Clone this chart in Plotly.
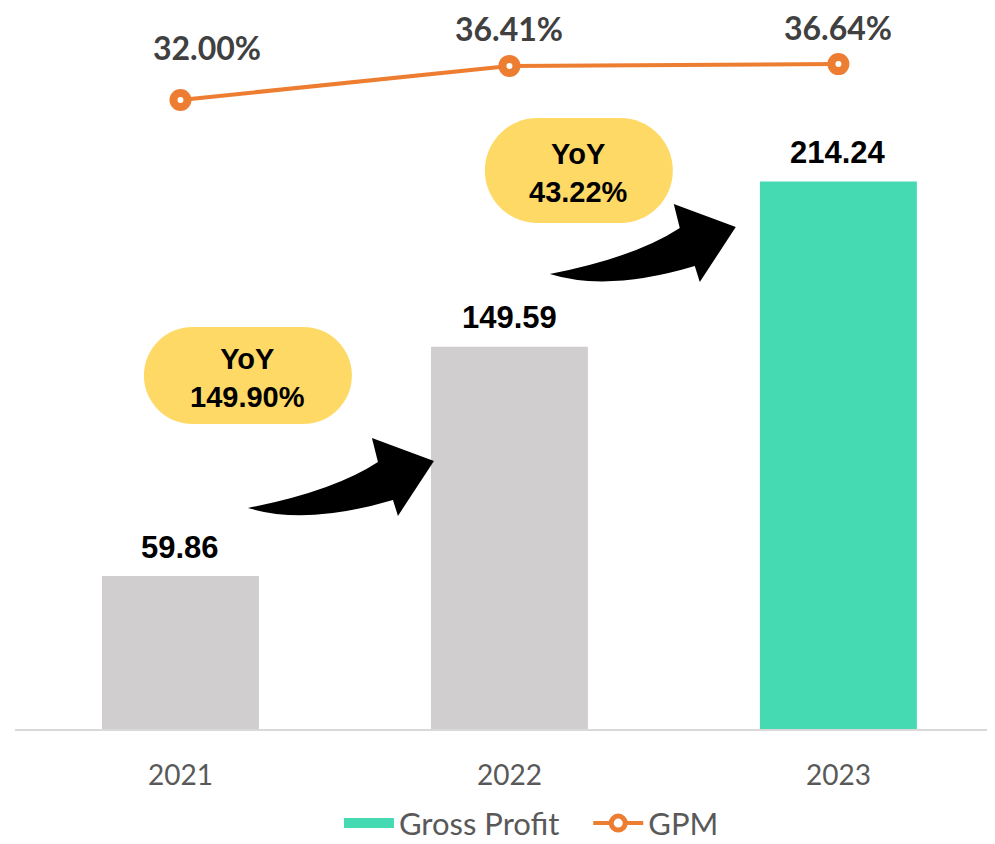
import plotly.graph_objects as go

# data
years = ["2021", "2022", "2023"]
gross_profit = [59.86, 149.59, 214.24]
gpm = [32.00, 36.41, 36.64]
yoy_labels = ["149.90%", "43.22%"]

# colours
BAR_COLORS = ["#D0CECE", "#D0CECE", "#46DAB3"]
GREEN = "#46DAB3"
ORANGE = "#ED7D31"
YELLOW = "#FFD966"

# decoration positions (category index, primary-axis value)
box_centers = [(0.205, 138.3), (1.211, 218.5)]
box_sizes = [(208, 97), (188, 105)]
arrow_tips = [(0.7705, 104.9), (1.688, 196.4)]
gpm_label_offsets = [(27, 52), (0, 37), (0, 37)]


def stadium_path(w, h):
    """Pill shape centred at 0,0 in pixels."""
    a, b = w / 2, h / 2
    r = b
    k = 0.5523 * r
    return (f"M{-a + r},{-b} L{a - r},{-b} "
            f"C{a - r + k},{-b} {a},{-k} {a},0 "
            f"C{a},{k} {a - r + k},{b} {a - r},{b} "
            f"L{-a + r},{b} "
            f"C{-a + r - k},{b} {-a},{k} {-a},0 "
            f"C{-a},{-k} {-a + r - k},{-b} {-a + r},{-b} Z")


# curved arrow, pixels relative to the tip (y up)
ARROW_PATH = ("M-186,-47 Q-100,-30 -56,-1 L-62,23 L0,0 L-36,-55 "
              "L-41,-39 Q-128,-65 -186,-47 Z")

fig = go.Figure()

fig.add_trace(go.Bar(
    x=years, y=gross_profit,
    marker=dict(color=BAR_COLORS, line=dict(width=0)),
    width=0.477,
    name="Gross Profit",
    showlegend=False,
))

# legend stand-in for the bar series (green swatch)
fig.add_trace(go.Scatter(
    x=[None], y=[None], mode="lines",
    line=dict(color=GREEN, width=20),
    name="Gross Profit\u00a0\u00a0\u00a0",
))

fig.add_trace(go.Scatter(
    x=years, y=gpm,
    mode="lines+markers",
    line=dict(color=ORANGE, width=4),
    marker=dict(symbol="circle", size=14, color="white",
                line=dict(color=ORANGE, width=8)),
    name="GPM",
    yaxis="y2",
))

annotations = []
for i, v in enumerate(gross_profit):
    annotations.append(dict(
        x=i, y=v, xref="x", yref="y", text=f"{v:.2f}",
        showarrow=False, yanchor="middle", yshift=29,
        font=dict(family="Liberation Sans, Arial", size=31, color="black", weight="bold"),
    ))

for i, (v, (dx, dy)) in enumerate(zip(gpm, gpm_label_offsets)):
    annotations.append(dict(
        x=i, y=v, xref="x", yref="y2", text=f"{v:.2f}%",
        showarrow=False, yanchor="middle", xshift=dx, yshift=dy,
        font=dict(family="Lato", size=32, color="#404040", weight="bold"),
    ))

shapes = []
for (cx, cy), (w, h), lbl in zip(box_centers, box_sizes, yoy_labels):
    shapes.append(dict(
        type="path", xref="x", yref="y",
        xsizemode="pixel", ysizemode="pixel",
        xanchor=cx, yanchor=cy,
        path=stadium_path(w, h),
        fillcolor=YELLOW, line=dict(width=0), layer="above",
    ))
    annotations.append(dict(
        x=cx, y=cy, xref="x", yref="y", text=f"YoY<br>{lbl}",
        showarrow=False, yanchor="middle", yshift=-2,
        font=dict(family="Liberation Sans, Arial", size=29, color="black", weight="bold"),
    ))

for tx, ty in arrow_tips:
    shapes.append(dict(
        type="path", xref="x", yref="y",
        xsizemode="pixel", ysizemode="pixel",
        xanchor=tx, yanchor=ty,
        path=ARROW_PATH,
        fillcolor="black", line=dict(width=0), layer="above",
    ))

# the page body adds an 8px margin, so the figure is 8px smaller than the window
fig.update_layout(
    width=987, height=836,
    margin=dict(l=7, r=0, t=0, b=115, autoexpand=False),
    plot_bgcolor="white", paper_bgcolor="white",
    showlegend=True,
    legend=dict(orientation="h", x=0.527, xanchor="center", y=-0.131, yanchor="middle",
                font=dict(family="Lato", size=31, color="#595959"),
                itemwidth=50, tracegroupgap=0),
    xaxis=dict(type="category", range=[-0.503, 2.476],
               showline=True, linecolor="#D9D9D9", linewidth=2,
               showgrid=False, zeroline=False, ticks="",
               ticklabelstandoff=20,
               tickfont=dict(family="Lato", size=28, color="#595959")),
    yaxis=dict(range=[0, 282.1], visible=False, showgrid=False),
    yaxis2=dict(range=[-49.37, 43.90], overlaying="y", side="right",
                visible=False, showgrid=False),
    annotations=annotations,
    shapes=shapes,
)

fig.write_html("out.html")
